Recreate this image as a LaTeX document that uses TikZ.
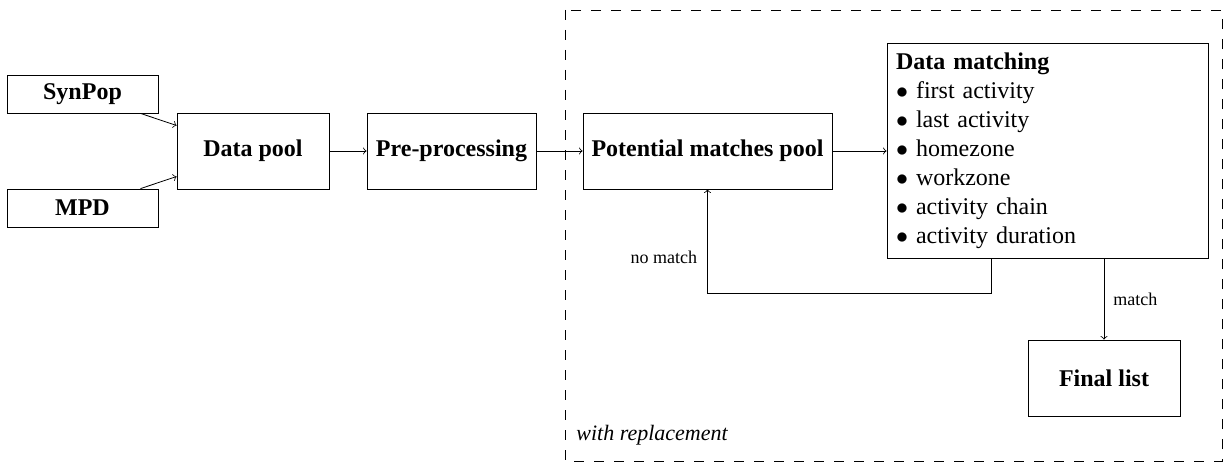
\documentclass[tikz,border=0pt]{standalone}
\usepackage{fontspec}
\setmainfont{Liberation Serif}
\begin{document}
\begin{tikzpicture}[x=0.5pt,y=-0.5pt,
  box/.style={draw, thin, inner sep=0pt, align=center, font=\fontsize{12}{14.5}\selectfont\bfseries},
  lbl/.style={font=\fontsize{9}{11}\selectfont},
  conn/.style={->, thin}]
\useasboundingbox (0,0) rectangle (1229,465);
% group frame
\draw[dash pattern=on 5pt off 5pt, thin] (565,10) rectangle (1222,461);
\node[anchor=west, inner sep=0pt, font=\fontsize{11}{13}\selectfont\itshape] (repl) at (576,435) {with replacement};
% nodes
\node[box, minimum width=75.5pt, minimum height=19pt] (synpop) at (82.5,94) {SynPop};
\node[box, minimum width=75.5pt, minimum height=19pt] (mpd) at (82.5,208) {MPD};
\node[box, minimum width=76pt, minimum height=38pt] (pool) at (253,151) {Data pool};
\node[box, minimum width=84.5pt, minimum height=38pt] (pre) at (451.5,151) {Pre-processing};
\node[box, minimum width=124.5pt, minimum height=38pt] (pot) at (707.5,151) {Potential matches pool};
\node[draw, thin, inner xsep=4.5pt, inner ysep=0pt, text width=151.5pt, minimum height=107.5pt, align=left,
      font=\fontsize{12}{14.5}\selectfont] (dm) at (1047.5,150.5)
  {\textbf{Data matching}\\
   $\bullet$ first activity\\
   $\bullet$ last activity\\
   $\bullet$ homezone\\
   $\bullet$ workzone\\
   $\bullet$ activity chain\\
   $\bullet$ activity duration};
\node[box, minimum width=76pt, minimum height=38pt] (final) at (1104,378) {Final list};
% connectors
\coordinate (nm) at (991,293);
\draw[conn] (synpop) -- (pool);
\draw[conn] (mpd) -- (pool);
\draw[conn] (pool) -- (pre);
\draw[conn] (pre) -- (pot);
\draw[conn] (pot) -- (pot -| dm.west);
\draw[conn] (dm.south -| nm) -- (nm) -| (pot.south)
  node[lbl, pos=0.67, left, inner sep=5pt] {no match};
\draw[conn] (dm.south -| final.north) -- (final.north)
  node[lbl, midway, right, inner sep=4.5pt] {match};
\end{tikzpicture}
\end{document}
